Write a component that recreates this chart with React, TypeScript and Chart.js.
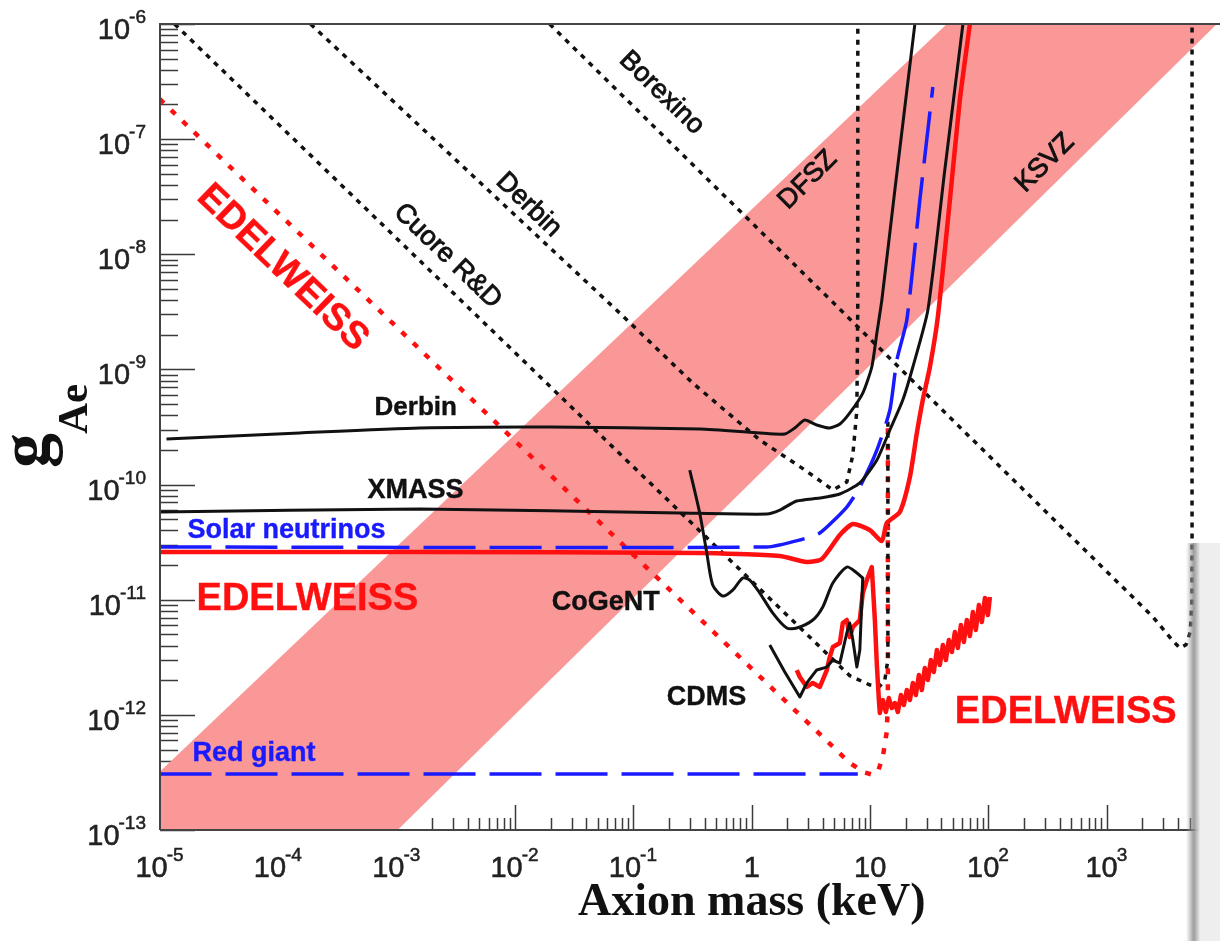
import React, { useEffect, useRef } from 'react';
import { Chart, registerables } from 'chart.js';
Chart.register(...registerables);

// ---- axis ranges ----
const X_MIN = 1e-5;
const X_MAX = 9040;
const Y_MIN = 1e-13;
const Y_MAX = 1e-6;
const xTickExponents = [-5, -4, -3, -2, -1, 0, 1, 2, 3];
const yTickExponents = [-13, -12, -11, -10, -9, -8, -7, -6];

// ---- data (log10 of axion mass in keV, log10 of g_Ae) ----
const bandUpperLogM = [-5.3, 4.5];
const bandUpperLogG = [-12.785, -3.215];
const bandLowerLogM = [-5.3, 4.5];
const bandLowerLogG = [-15.334, -5.423];

const cuoreLogM = [-4.877, 0.828, 0.997, 1.082, 1.124, 1.15, 1.15];
const cuoreLogG = [-6, -11.66, -11.74, -11.75, -11.7, -11.52, -9.41];

const derbinDotLogM = [-3.728, -1.116, -0.499, 0.068, 0.45, 0.685, 0.803, 0.854, 0.888, 0.896, 0.896];
const derbinDotLogG = [-6, -8.51, -9.118, -9.613, -9.874, -10.047, -9.978, -9.743, -9.352, -8.397, -6];

const borexinoLogM = [-1.708, 3.39, 3.56, 3.618, 3.67, 3.705, 3.72, 3.72];
const borexinoLogG = [-6, -11.15, -11.36, -11.42, -11.39, -11.28, -11.0, -6];

const edelDotLogM = [-5.004, 0.828, 0.95, 1.023, 1.07, 1.107, 1.14, 1.15, 1.15];
const edelDotLogG = [-6.651, -12.418, -12.5, -12.52, -12.48, -12.366, -12.15, -11.9, -9.44];

const redGiantLogM = [-5.004, 0.896];
const redGiantLogG = [-12.514, -12.514];

const solarLogM = [-5.004, 0.127, 0.406, 0.575, 0.803, 0.913, 1.057, 1.167, 1.226, 1.31, 1.42, 1.53];
const solarLogG = [-10.542, -10.542, -10.481, -10.421, -10.195, -10.021, -9.7, -9.352, -8.918, -8.571, -7.529, -6.547];

const derbinLogM = [-4.945, -3.821, -2.806, -1.708, -0.44, 0.068, 0.279, 0.363, 0.448, 0.549, 0.659, 0.745, 0.828, 0.938, 1.014, 1.057, 1.099, 1.209, 1.378];
const derbinLogG = [-9.604, -9.552, -9.509, -9.5, -9.517, -9.552, -9.561, -9.509, -9.439, -9.483, -9.509, -9.474, -9.378, -9.205, -8.979, -8.684, -8.397, -7.442, -6.0];

const xmassLogM = [-5.004, -2.806, -0.609, 0.127, 0.237, 0.38, 0.575, 0.744, 0.913, 1.057, 1.167, 1.276, 1.361, 1.488, 1.631, 1.784];
const xmassLogG = [-10.238, -10.212, -10.247, -10.256, -10.221, -10.143, -10.117, -10.082, -9.986, -9.787, -9.526, -9.266, -8.979, -8.484, -7.268, -6.0];

const edelSolarLogM = [-5.004, -2.806, -0.44, 0.237, 0.465, 0.592, 0.744, 0.854, 0.997, 1.099, 1.141, 1.251, 1.336, 1.395, 1.445, 1.505, 1.572, 1.674, 1.758, 1.843];
const edelSolarLogG = [-10.586, -10.586, -10.594, -10.62, -10.673, -10.647, -10.438, -10.343, -10.395, -10.49, -10.334, -10.238, -9.934, -9.552, -9.266, -8.979, -8.545, -7.529, -6.66, -6.0];

const cogentLogM = [-0.524, -0.44, -0.38, -0.33, -0.245, -0.161, -0.076, -0.017, 0.068, 0.178, 0.296, 0.38, 0.516, 0.6, 0.685, 0.803, 0.888, 0.938];
const cogentLogG = [-9.874, -10.247, -10.594, -10.872, -10.968, -10.916, -10.811, -10.829, -10.942, -11.116, -11.246, -11.246, -11.176, -11.063, -10.855, -10.716, -10.768, -10.811];

const cdmsLogM = [0.152, 0.279, 0.406, 0.465, 0.549, 0.634, 0.685, 0.744, 0.803, 0.828, 0.854, 0.888, 0.913, 0.938];
const cdmsLogG = [-11.393, -11.628, -11.845, -11.723, -11.61, -11.585, -11.524, -11.55, -11.289, -11.202, -11.35, -11.585, -11.437, -10.803];

const edelDMLogM = [0.38, 0.406, 0.465, 0.516, 0.575, 0.634, 0.659, 0.685, 0.744, 0.769, 0.803, 0.828, 0.854, 0.913, 0.938, 0.972, 1.014, 1.04, 1.057, 1.074,
  1.082, 1.107, 1.133, 1.158, 1.183, 1.209, 1.234, 1.26, 1.285, 1.31, 1.336, 1.361, 1.386, 1.412, 1.437, 1.462, 1.488, 1.513, 1.538, 1.564,
  1.589, 1.615, 1.64, 1.665, 1.691, 1.716, 1.741, 1.767, 1.792, 1.817, 1.843, 1.868, 1.893, 1.919, 1.944, 1.97, 1.995, 2.012];
const edelDMLogG = [-11.611, -11.671, -11.758, -11.723, -11.758, -11.611, -11.498, -11.411, -11.376, -11.202, -11.176, -11.324, -11.237, -11.176, -10.942, -10.829, -10.716, -11.176, -11.567, -11.871,
  -11.984, -11.871, -11.975, -11.854, -11.941, -11.897, -11.975, -11.828, -11.915, -11.784, -11.871, -11.723, -11.828, -11.654, -11.784, -11.593, -11.697, -11.524, -11.628, -11.437,
  -11.567, -11.393, -11.524, -11.35, -11.454, -11.28, -11.419, -11.22, -11.367, -11.176, -11.315, -11.107, -11.263, -11.046, -11.194, -10.985, -11.133, -10.977];

// ---- text annotations: [text, log10 m, log10 g, angle deg, size, bold, color, align] ----
type Ann = [string, number, number, number, number, boolean, string, CanvasTextAlign];
const annotations: Ann[] = [
  ['Derbin', -3.187, -9.396, 0, 26, true, '#111', 'left'],
  ['XMASS', -3.246, -10.117, 0, 27, true, '#111', 'left'],
  ['Solar neutrinos', -4.768, -10.464, 0, 27, true, '#1a1aff', 'left'],
  ['Red giant', -4.725, -12.401, 0, 27, true, '#1a1aff', 'left'],
  ['EDELWEISS', -4.691, -11.089, 0, 38, true, '#ff1010', 'left'],
  ['CoGeNT', -1.691, -11.089, 0, 27, true, '#111', 'left'],
  ['CDMS', -0.719, -11.915, 0, 27, true, '#111', 'left'],
  ['EDELWEISS', 1.716, -12.071, 0, 38, true, '#ff1010', 'left'],
  ['EDELWEISS', -3.964, -8.119, 44, 38, true, '#ff1010', 'center'],
  ['Cuore R&D', -2.57, -8.015, 44, 27, false, '#111', 'center'],
  ['Derbin', -1.885, -7.572, 44, 27, false, '#111', 'center'],
  ['Borexino', -0.761, -6.599, 44, 27, false, '#111', 'center'],
  ['DFSZ', 0.473, -7.355, -45, 27, false, '#111', 'center'],
  ['KSVZ', 2.477, -7.207, -45, 27, false, '#111', 'center'],
];

const pts = (lm: number[], lg: number[]) => lm.map((m, i) => ({ x: Math.pow(10, m), y: Math.pow(10, lg[i]) }));

const BLACK = '#111111';
const RED = '#ff1010';
const BLUE = '#1a1aff';
const PINK = 'rgb(250,152,152)';

function line(label: string, lm: number[], lg: number[], color: string, width: number, dash: number[], order: number, tension = 0) {
  return {
    label,
    data: pts(lm, lg),
    borderColor: color,
    backgroundColor: color,
    borderWidth: width,
    borderDash: dash,
    borderCapStyle: 'butt',
    borderJoinStyle: 'round',
    pointRadius: 0,
    showLine: true,
    fill: false,
    tension,
    order,
  };
}

const SANS = '"Liberation Sans", Arial, Helvetica, sans-serif';
const SERIF = '"Liberation Serif", "Times New Roman", serif';

function drawPow(ctx: CanvasRenderingContext2D, exp: number, x: number, y: number, mode: 'center' | 'right') {
  const mainFont = `29px ${SANS}`;
  const supFont = `19px ${SANS}`;
  let base = '10';
  let sup = '';
  if (exp === 0) base = '1';
  else if (exp !== 1) sup = String(exp);
  ctx.font = mainFont;
  const w1 = ctx.measureText(base).width;
  ctx.font = supFont;
  const w2 = sup ? ctx.measureText(sup).width : 0;
  const total = w1 + w2;
  const start = mode === 'center' ? x - total / 2 : x - total;
  ctx.textAlign = 'left';
  ctx.textBaseline = 'alphabetic';
  ctx.lineWidth = 0.5;
  ctx.font = mainFont;
  ctx.fillText(base, start, y);
  ctx.strokeText(base, start, y);
  if (sup) {
    ctx.font = supFont;
    ctx.fillText(sup, start + w1 - 1, y - 16);
    ctx.strokeText(sup, start + w1 - 1, y - 16);
  }
}

const rootStylePlugin = {
  id: 'rootStyle',
  beforeDatasetsDraw(chart: any) {
    const { ctx, chartArea: a, scales } = chart;
    const xs = scales.x;
    const ys = scales.y;
    ctx.save();
    ctx.strokeStyle = '#3a3a3a';
    ctx.lineWidth = 1.5;
    for (const e of xTickExponents) {
      for (let k = 1; k <= 9; k++) {
        const v = k * Math.pow(10, e);
        if (v > X_MAX) continue;
        const px = Math.round(xs.getPixelForValue(v)) + 0.5;
        const len = k === 1 ? 25 : 12;
        ctx.beginPath();
        ctx.moveTo(px, a.bottom);
        ctx.lineTo(px, a.bottom - len);
        ctx.stroke();
      }
    }
    for (const e of yTickExponents) {
      for (let k = 1; k <= 9; k++) {
        const v = k * Math.pow(10, e);
        if (v > Y_MAX * 1.0001) continue;
        const py = Math.round(ys.getPixelForValue(v)) + 0.5;
        const len = k === 1 ? 35 : 18;
        ctx.beginPath();
        ctx.moveTo(a.left, py);
        ctx.lineTo(a.left + len, py);
        ctx.stroke();
      }
    }
    ctx.restore();
  },
  afterDatasetsDraw(chart: any) {
    const { ctx, chartArea: a, scales } = chart;
    const xs = scales.x;
    const ys = scales.y;
    ctx.save();
    // frame
    ctx.strokeStyle = '#444';
    ctx.lineWidth = 2;
    ctx.beginPath();
    ctx.moveTo(a.left, a.bottom);
    ctx.lineTo(a.left, a.top);
    ctx.lineTo(a.right, a.top);
    ctx.moveTo(a.left, a.bottom);
    ctx.lineTo(a.right, a.bottom);
    ctx.stroke();

    // annotations
    for (const [text, lm, lg, ang, size, bold, color, align] of annotations) {
      const px = xs.getPixelForValue(Math.pow(10, lm));
      const py = ys.getPixelForValue(Math.pow(10, lg));
      ctx.save();
      ctx.translate(px, py);
      ctx.rotate((ang * Math.PI) / 180);
      ctx.font = `${bold ? 'bold ' : ''}${size}px ${SANS}`;
      ctx.fillStyle = color;
      ctx.strokeStyle = color;
      ctx.lineWidth = bold ? 0.4 : 0.9;
      ctx.textAlign = align;
      ctx.textBaseline = align === 'center' ? 'middle' : 'alphabetic';
      ctx.fillText(text, 0, 0);
      ctx.strokeText(text, 0, 0);
      ctx.restore();
    }

    // tick labels
    ctx.fillStyle = '#222';
    ctx.strokeStyle = '#222';
    for (const e of xTickExponents) {
      const px = xs.getPixelForValue(Math.pow(10, e));
      drawPow(ctx, e, px, a.bottom + 47, 'center');
    }
    for (const e of yTickExponents) {
      const py = ys.getPixelForValue(Math.pow(10, e));
      drawPow(ctx, e, a.left - 13, py + 15, 'right');
    }

    // axis titles
    ctx.fillStyle = '#111';
    ctx.font = `bold 46px ${SERIF}`;
    ctx.textAlign = 'center';
    ctx.textBaseline = 'alphabetic';
    ctx.fillText('Axion mass (keV)', xs.getPixelForValue(1), a.bottom + 85);

    ctx.save();
    ctx.translate(48, 468);
    ctx.rotate(-Math.PI / 2);
    ctx.textAlign = 'left';
    ctx.font = `bold 70px ${SERIF}`;
    ctx.fillText('g', 0, 0);
    ctx.font = `bold 43px ${SERIF}`;
    ctx.fillText('Ae', 34, 39);
    ctx.restore();

    // slide shadow overlay at the right edge
    const top = 543;
    const grad = ctx.createLinearGradient(1186, 0, 1200, 0);
    grad.addColorStop(0, 'rgba(150,150,150,0)');
    grad.addColorStop(0.55, 'rgba(140,140,140,0.85)');
    grad.addColorStop(1, 'rgba(236,236,236,1)');
    ctx.fillStyle = grad;
    ctx.fillRect(1186, top, 14, chart.height - top);
    ctx.fillStyle = '#eeeeee';
    ctx.fillRect(1200, top, chart.width - 1200, chart.height - top);
    ctx.restore();
  },
};

const datasets: any[] = [
  { ...line('band upper', bandUpperLogM, bandUpperLogG, PINK, 0, [], 50), fill: '+1', backgroundColor: PINK },
  line('band lower', bandLowerLogM, bandLowerLogG, PINK, 0, [], 49),
  line('EDELWEISS axioelectric', edelDotLogM, edelDotLogG, RED, 4.5, [6, 10], 40),
  line('Cuore R&D', cuoreLogM, cuoreLogG, BLACK, 3.5, [5, 6], 30),
  line('Derbin (Tm)', derbinDotLogM, derbinDotLogG, BLACK, 3.5, [5, 6], 30),
  line('Borexino', borexinoLogM, borexinoLogG, BLACK, 3.5, [5, 6], 30),
  line('Red giant', redGiantLogM, redGiantLogG, BLUE, 3.5, [52, 14], 25),
  line('Solar neutrinos', solarLogM, solarLogG, BLUE, 3.5, [52, 14], 25, 0.2),
  line('Derbin', derbinLogM, derbinLogG, BLACK, 3, [], 20, 0.2),
  line('XMASS', xmassLogM, xmassLogG, BLACK, 3, [], 20, 0.2),
  line('EDELWEISS solar', edelSolarLogM, edelSolarLogG, RED, 4.5, [], 15, 0.2),
  line('CoGeNT', cogentLogM, cogentLogG, BLACK, 3, [], 12, 0.25),
  line('EDELWEISS DM', edelDMLogM, edelDMLogG, RED, 4.5, [], 11),
  line('CDMS', cdmsLogM, cdmsLogG, BLACK, 3, [], 10),
];

export default function App() {
  const ref = useRef<HTMLCanvasElement>(null);
  useEffect(() => {
    const chart = new Chart(ref.current as HTMLCanvasElement, {
      type: 'scatter',
      data: { datasets },
      options: {
        animation: false,
        responsive: false,
        events: [],
        layout: { padding: { left: 160, right: 0, top: 24, bottom: 111 } },
        plugins: { legend: { display: false }, tooltip: { enabled: false } },
        scales: {
          x: { type: 'logarithmic', min: X_MIN, max: X_MAX, display: false },
          y: { type: 'logarithmic', min: Y_MIN, max: Y_MAX, display: false },
        },
      },
      plugins: [rootStylePlugin],
    } as any);
    return () => chart.destroy();
  }, []);
  return (
    <div style={{ position: 'absolute', left: 0, top: 0, width: 1220, height: 941, background: '#fff' }}>
      <canvas ref={ref} width={1220} height={941} style={{ display: 'block', width: 1220, height: 941 }} />
    </div>
  );
}
